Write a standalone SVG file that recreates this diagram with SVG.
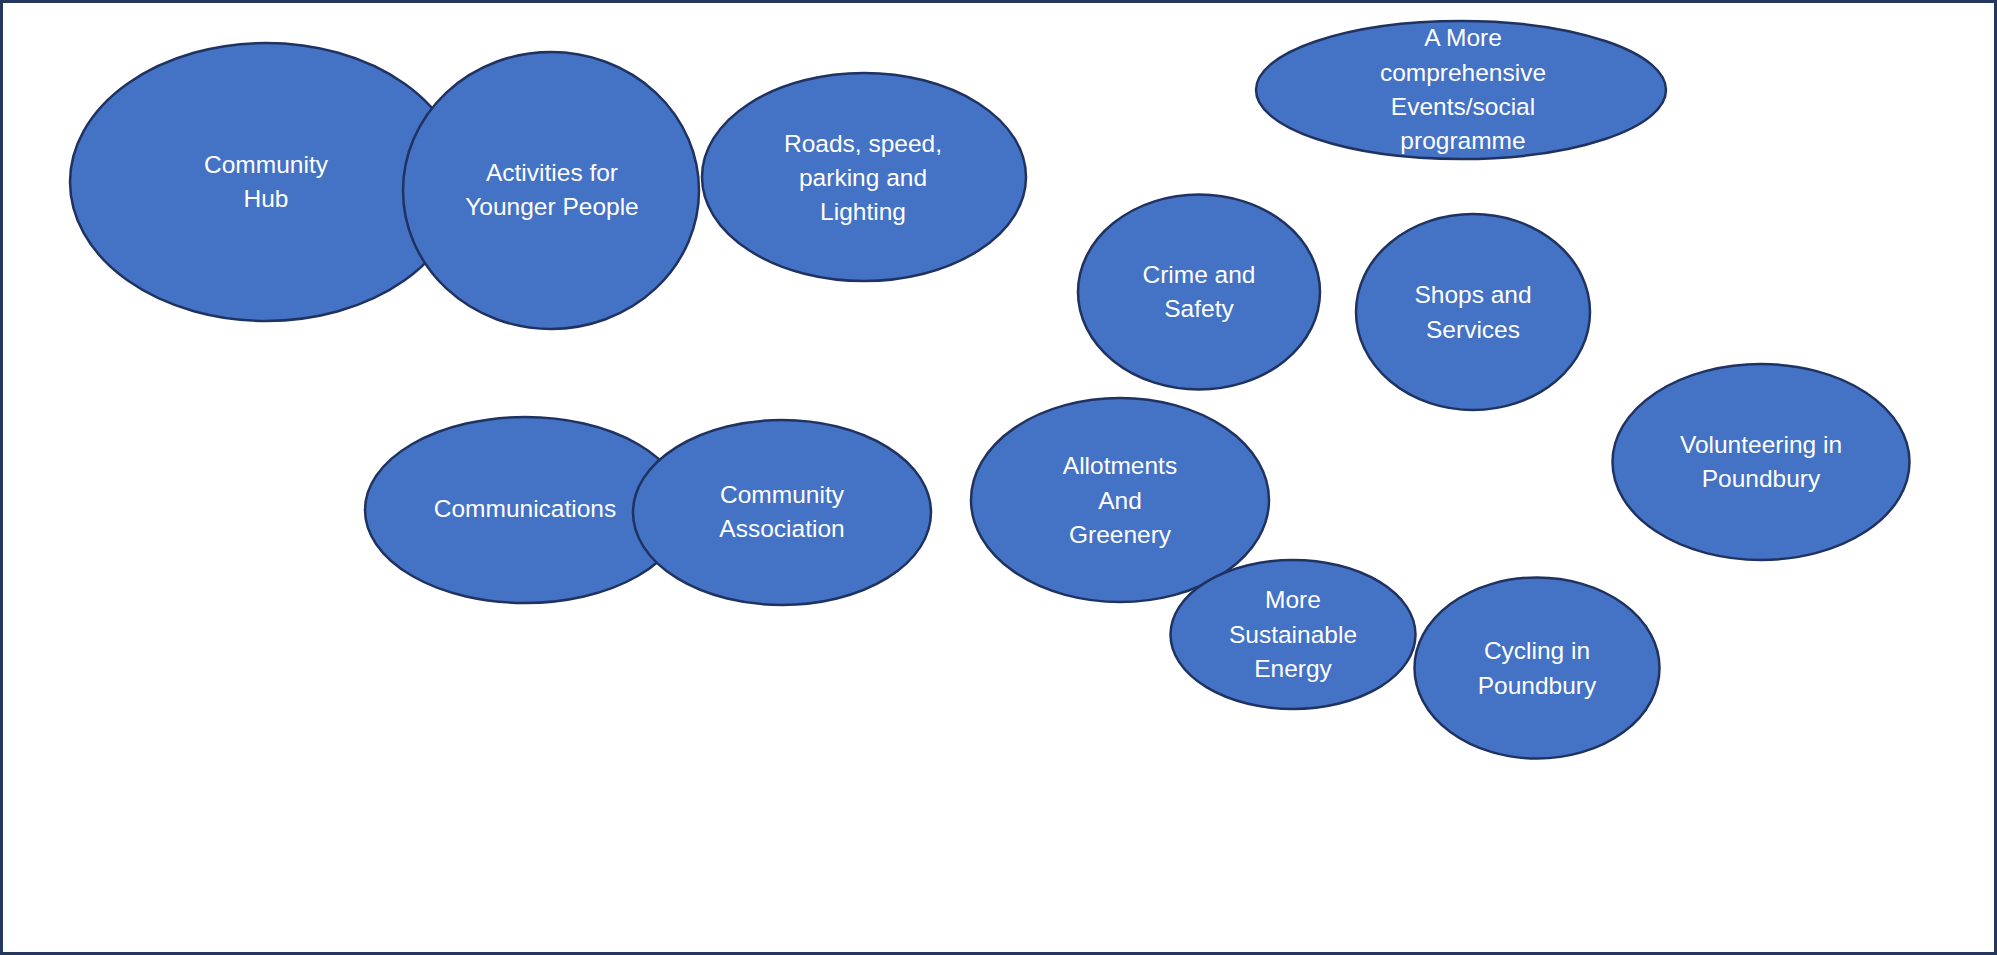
<svg xmlns="http://www.w3.org/2000/svg" width="1997" height="955" viewBox="0 0 1997 955">
<style>
.n{fill:#4472C4;stroke:#1F3260;stroke-width:2.5}
.t{fill:#fff;font-family:"Liberation Sans",Arial,sans-serif;font-size:24.5px;text-anchor:middle}
</style>
<rect x="0" y="0" width="1997" height="955" fill="#fff"/>
<rect x="1.5" y="1.5" width="1994" height="952" fill="none" stroke="#26375F" stroke-width="3"/>
<g id="connectors"></g>
<g id="community-hub"><ellipse class="n" cx="266" cy="182" rx="196" ry="139"/><text class="t" x="266" y="173">Community</text><text class="t" x="266" y="207">Hub</text></g>
<g id="activities"><ellipse class="n" cx="551" cy="190.5" rx="148" ry="138.5"/><text class="t" x="552" y="181">Activities for</text><text class="t" x="552" y="215">Younger People</text></g>
<g id="roads"><ellipse class="n" cx="864" cy="177" rx="162" ry="104"/><text class="t" x="863" y="152">Roads, speed,</text><text class="t" x="863" y="186">parking and</text><text class="t" x="863" y="220">Lighting</text></g>
<g id="events"><ellipse class="n" cx="1461" cy="90" rx="205" ry="69"/><text class="t" x="1463" y="46">A More</text><text class="t" x="1463" y="81">comprehensive</text><text class="t" x="1463" y="115">Events/social</text><text class="t" x="1463" y="149">programme</text></g>
<g id="crime"><ellipse class="n" cx="1199" cy="292" rx="121" ry="97.5"/><text class="t" x="1199" y="283">Crime and</text><text class="t" x="1199" y="317">Safety</text></g>
<g id="shops"><ellipse class="n" cx="1473" cy="312" rx="117" ry="98"/><text class="t" x="1473" y="303">Shops and</text><text class="t" x="1473" y="338">Services</text></g>
<g id="volunteering"><ellipse class="n" cx="1761" cy="462" rx="148.5" ry="98"/><text class="t" x="1761" y="453">Volunteering in</text><text class="t" x="1761" y="487">Poundbury</text></g>
<g id="communications"><ellipse class="n" cx="525" cy="510" rx="160" ry="93"/><text class="t" x="525" y="517">Communications</text></g>
<g id="community-association"><ellipse class="n" cx="782" cy="512.5" rx="149" ry="92.5"/><text class="t" x="782" y="503">Community</text><text class="t" x="782" y="537">Association</text></g>
<g id="allotments"><ellipse class="n" cx="1120" cy="500" rx="149" ry="102"/><text class="t" x="1120" y="474">Allotments</text><text class="t" x="1120" y="509">And</text><text class="t" x="1120" y="543">Greenery</text></g>
<g id="sustainable"><ellipse class="n" cx="1293" cy="634.5" rx="122.5" ry="74.5"/><text class="t" x="1293" y="608">More</text><text class="t" x="1293" y="643">Sustainable</text><text class="t" x="1293" y="677">Energy</text></g>
<g id="cycling"><ellipse class="n" cx="1537" cy="668" rx="122.5" ry="90.5"/><text class="t" x="1537" y="659">Cycling in</text><text class="t" x="1537" y="694">Poundbury</text></g>
</svg>
